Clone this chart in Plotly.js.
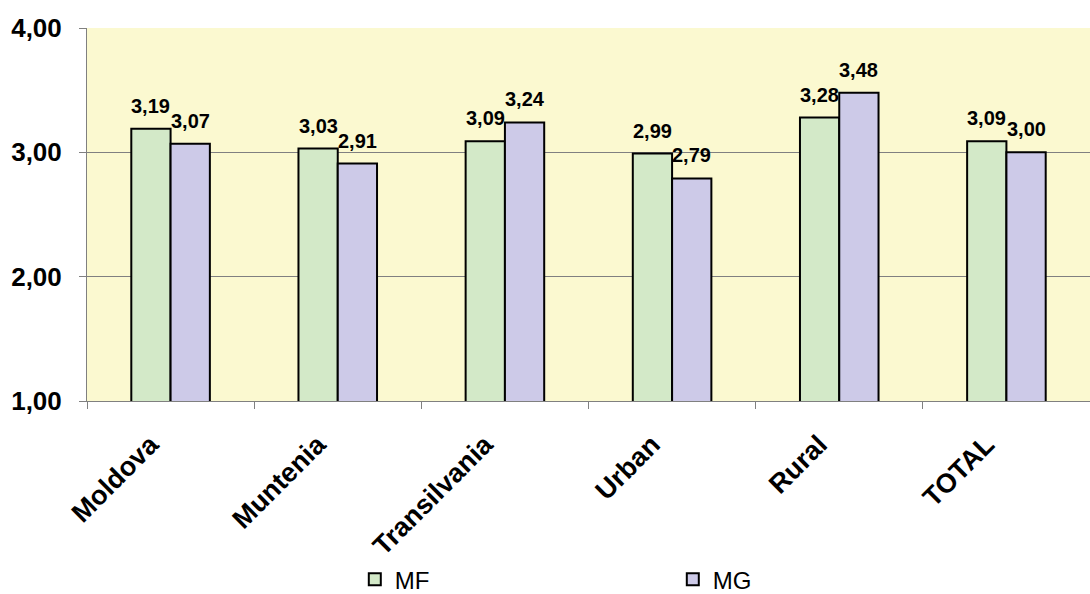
<!DOCTYPE html>
<html><head><meta charset="utf-8">
<script src="https://cdn.plot.ly/plotly-3.0.1.min.js"></script>
<style>html,body{margin:0;padding:0;background:#fff}</style>
</head><body>
<div id="chart" style="width:1090px;height:594px"></div>
<script>
const categories = ["Moldova", "Muntenia", "Transilvania", "Urban", "Rural", "TOTAL"];
const mfValues = [3.19, 3.03, 3.09, 2.99, 3.28, 3.09];
const mgValues = [3.07, 2.91, 3.24, 2.79, 3.48, 3.00];
const yTicks = [1, 2, 3, 4];

const FONT = 'Liberation Sans, Arial, sans-serif';
const traces = [
  {type: 'bar', name: 'MF', x: categories, y: mfValues, hoverinfo: 'skip',
   marker: {color: '#d3e9c8', line: {color: '#000', width: 2}}},
  {type: 'bar', name: 'MG', x: categories, y: mgValues, hoverinfo: 'skip',
   marker: {color: '#cdcae8', line: {color: '#000', width: 2}}}
];
const fmt = v => v.toFixed(2).replace('.', ',');
const annotations = [];
[[mfValues, -19.6], [mgValues, 19.6]].forEach(([vals, dx]) => {
  vals.forEach((v, i) => annotations.push({
    x: categories[i], y: v, xref: 'x', yref: 'y', text: fmt(v), showarrow: false,
    xanchor: 'center', yanchor: 'bottom', xshift: dx, yshift: 10,
    font: {family: FONT, size: 20, color: '#000', weight: 'bold'}
  }));
});
const layout = {
  width: 1090, height: 594,
  margin: {l: 87, r: 0, t: 28, b: 193},
  paper_bgcolor: '#fff', plot_bgcolor: '#fbf9d0',
  separators: ',.',
  barmode: 'group', bargap: 0.53, bargroupgap: 0,
  showlegend: true,
  font: {family: FONT, color: '#000'},
  annotations: annotations,
  xaxis: {
    type: 'category', tickson: 'boundaries', ticks: 'outside', ticklen: 7, tickcolor: '#808080',
    showline: true, linecolor: '#808080', linewidth: 1, showgrid: false,
    tickangle: -45, ticklabelstandoff: 16, ticklabelshift: -20, automargin: false,
    tickfont: {size: 27, weight: 'bold', color: '#000'}
  },
  yaxis: {
    range: [1, 4], tickvals: yTicks, tickformat: '.2f', ticks: 'outside', ticklen: 7, tickcolor: '#808080',
    showline: true, linecolor: '#808080', linewidth: 1, automargin: false,
    showgrid: true, gridcolor: '#808080', gridwidth: 1, zeroline: false, ticklabelstandoff: 12,
    tickfont: {size: 26, weight: 'bold', color: '#000'}
  },
  legend: {
    orientation: 'h', x: 0.267, y: 0.024, xanchor: 'left', yanchor: 'middle', yref: 'container',
    font: {size: 24, color: '#000'}, entrywidth: 273, entrywidthmode: 'pixels',
    bgcolor: 'rgba(0,0,0,0)'
  }
};
Plotly.newPlot('chart', traces, layout, {displayModeBar: false, staticPlot: true});
</script>
</body></html>
